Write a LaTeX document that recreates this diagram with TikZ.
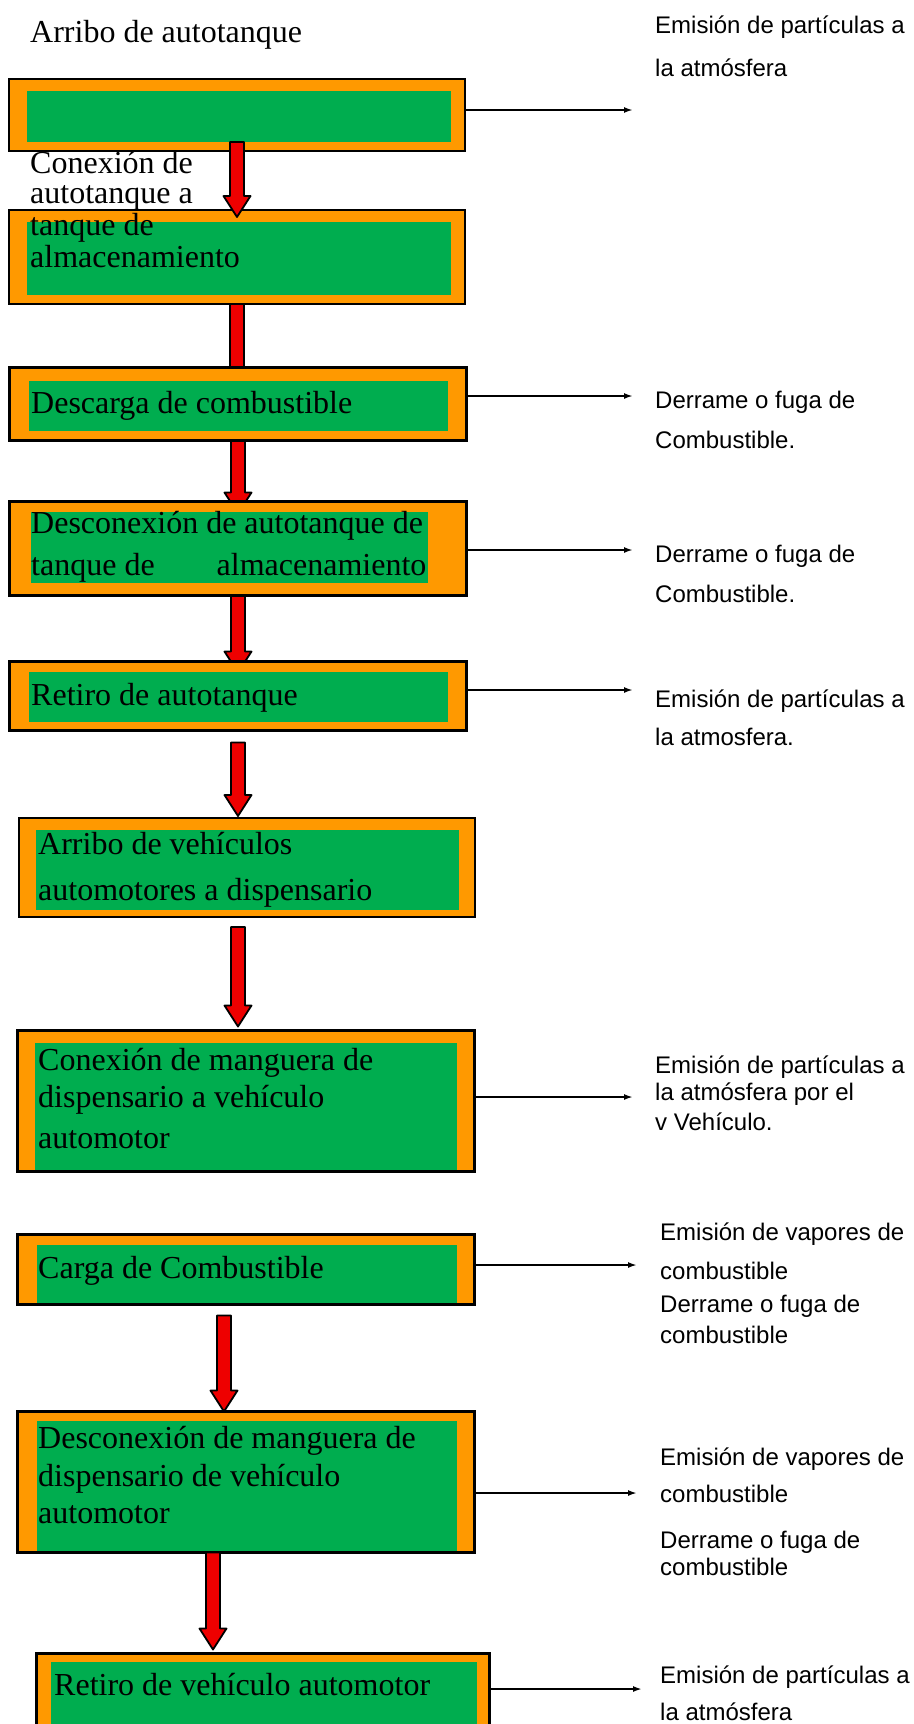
\documentclass[tikz,border=0pt]{standalone}
\usepackage{fontspec}
\setmainfont{Liberation Serif}
\newfontfamily\arial{Liberation Sans}
\usetikzlibrary{arrows.meta,fit,calc}
\definecolor{naranja}{RGB}{255,153,0}
\definecolor{verdecaja}{RGB}{0,173,79}
\definecolor{rojo}{RGB}{238,0,0}
\pgfdeclarelayer{fondo}
\pgfsetlayers{fondo,main}
\tikzset{caja/.style={draw=black,fill=naranja,line width=3pt,inner sep=0pt,outer sep=0pt},
         relleno/.style={fill=verdecaja},
         paso/.style={anchor=base west,inner sep=0pt,font=\fontsize{32}{32}\selectfont},
         efecto/.style={anchor=base west,inner sep=0pt,font=\arial\fontsize{24}{24}\selectfont},
         flecha/.style={draw=black,fill=rojo,line width=1.8pt,line join=round},
         salida/.style={-{Latex[length=9pt,width=6pt]},line width=2pt}
}
\newcommand{\flecha}[2]{%
  \draw[flecha] let \p1=(#1), \p2=(#2) in
    (\x1-7pt,\y1) -- (\x1+7pt,\y1) -- (\x1+7pt,\y2+21pt) -- (\x1+13.5pt,\y2+21pt)
    -- (\x1,\y2) -- (\x1-13.5pt,\y2+21pt) -- (\x1-7pt,\y2+21pt) -- cycle;}

\begin{document}
\begin{tikzpicture}[x=1pt,y=-1pt]
\useasboundingbox (0,0) rectangle (913,1724);

\node[caja,line width=2pt,fit={(9,79) (465,151)}] (b1) {};
\fill[relleno] (27,91) rectangle (451,142);
\node[caja,line width=2pt,fit={(9,210) (465,304)}] (b2) {};
\fill[relleno] (27,222) rectangle (451,295);
\node[caja,fit={(9.5,367.5) (466.5,440.5)}] (b3) {};
\fill[relleno] (29,381) rectangle (448,431);
\node[caja,fit={(9.5,501.5) (466.5,595.5)}] (b4) {};
\fill[relleno] (31,512) rectangle (428,583);
\node[caja,fit={(9.5,661.5) (466.5,730.5)}] (b5) {};
\fill[relleno] (29,672) rectangle (448,722);
\node[caja,line width=2pt,fit={(19,818) (475,917)}] (b6) {};
\fill[relleno] (36,830) rectangle (459,910);
\node[caja,fit={(17.5,1030.5) (474.5,1171.5)}] (b7) {};
\fill[relleno] (35,1043) rectangle (457,1170);
\node[caja,fit={(17.5,1234.5) (474.5,1304.5)}] (b8) {};
\fill[relleno] (37,1245) rectangle (457,1303);
\node[caja,fit={(17.5,1411.5) (474.5,1552.5)}] (b9) {};
\fill[relleno] (37,1421) rectangle (457,1551);
\node[caja,fit={(36.5,1653.5) (489.5,1750)}] (b10) {};
\fill[relleno] (51,1662) rectangle (477,1750);

\begin{pgfonlayer}{fondo}
\flecha{[yshift=5pt]b2.south}{[yshift=-22pt]b3.north}
\flecha{[yshift=2pt]b3.south}{[yshift=-12pt]b4.north}
\flecha{[yshift=2pt]b4.south}{[yshift=-11pt]b5.north}
\end{pgfonlayer}
\flecha{[yshift=9pt]b1.south}{[yshift=-7pt]b2.north}
\flecha{[yshift=-12pt]b5.south}{[yshift=2pt]b6.north}
\flecha{[xshift=-9pt,yshift=-10pt]b6.south}{[yshift=4pt]b7.north}
\flecha{[xshift=-22pt,yshift=-11pt]b8.south}{b9.north}
\flecha{[xshift=-33pt]b9.south}{[yshift=4pt]b10.north}

\node[paso] (t1) at (30,42) {Arribo de autotanque};
\node[paso] (t2a) at (30,173) {Conexión de};
\node[paso] (t2b) at (30,203) {autotanque a};
\node[paso] (t2c) at (30,235) {tanque de};
\node[paso] (t2d) at (30,267) {almacenamiento};
\node[paso] (t3) at (31,413) {Descarga de combustible};
\node[paso] (t4a) at (31,533) {Desconexión de autotanque de};
\node[paso] (t4b) at (31,575) {tanque de\hspace{62pt}almacenamiento};
\node[paso] (t5) at (31,705) {Retiro de autotanque};
\node[paso] (t6a) at (38,854) {Arribo de vehículos};
\node[paso] (t6b) at (38,900) {automotores a dispensario};
\node[paso] (t7a) at (38,1070) {Conexión de manguera de};
\node[paso] (t7b) at (38,1107) {dispensario a vehículo};
\node[paso] (t7c) at (38,1148) {automotor};
\node[paso] (t8) at (38,1278) {Carga de Combustible};
\node[paso] (t9a) at (38,1448) {Desconexión de manguera de};
\node[paso] (t9b) at (38,1486) {dispensario de vehículo};
\node[paso] (t9c) at (38,1523) {automotor};
\node[paso] (t10) at (54,1695) {Retiro de vehículo automotor};

\coordinate (s1) at (633,110);
\coordinate (s2) at (633,396);
\coordinate (s3) at (633,550);
\coordinate (s4) at (633,690);
\coordinate (s5) at (633,1097);
\coordinate (s6) at (637,1265);
\coordinate (s7) at (637,1493);
\coordinate (s8) at (642,1689);
\draw[salida] (b1.east |- s1) -- (s1);
\draw[salida] (b3.east |- s2) -- (s2);
\draw[salida] (b4.east |- s3) -- (s3);
\draw[salida] (b5.east |- s4) -- (s4);
\draw[salida] (b7.east |- s5) -- (s5);
\draw[salida] (b8.east |- s6) -- (s6);
\draw[salida] (b9.east |- s7) -- (s7);
\draw[salida] (b10.east |- s8) -- (s8);

\node[efecto] (r1a) at (655,33) {Emisión de partículas a};
\node[efecto] (r1b) at (655,76) {la atmósfera};
\node[efecto] (r2a) at (655,408) {Derrame o fuga de};
\node[efecto] (r2b) at (655,448) {Combustible.};
\node[efecto] (r3a) at (655,562) {Derrame o fuga de};
\node[efecto] (r3b) at (655,602) {Combustible.};
\node[efecto] (r4a) at (655,707) {Emisión de partículas a};
\node[efecto] (r4b) at (655,745) {la atmosfera.};
\node[efecto] (r5a) at (655,1073) {Emisión de partículas a};
\node[efecto] (r5b) at (655,1100) {la atmósfera por el};
\node[efecto] (r5c) at (655,1130) {v Vehículo.};
\node[efecto] (r6a) at (660,1240) {Emisión de vapores de};
\node[efecto] (r6b) at (660,1279) {combustible};
\node[efecto] (r6c) at (660,1312) {Derrame o fuga de};
\node[efecto] (r6d) at (660,1343) {combustible};
\node[efecto] (r7a) at (660,1465) {Emisión de vapores de};
\node[efecto] (r7b) at (660,1502) {combustible};
\node[efecto] (r7c) at (660,1548) {Derrame o fuga de};
\node[efecto] (r7d) at (660,1575) {combustible};
\node[efecto] (r8a) at (660,1683) {Emisión de partículas a};
\node[efecto] (r8b) at (660,1720) {la atmósfera};

\end{tikzpicture}
\end{document}
